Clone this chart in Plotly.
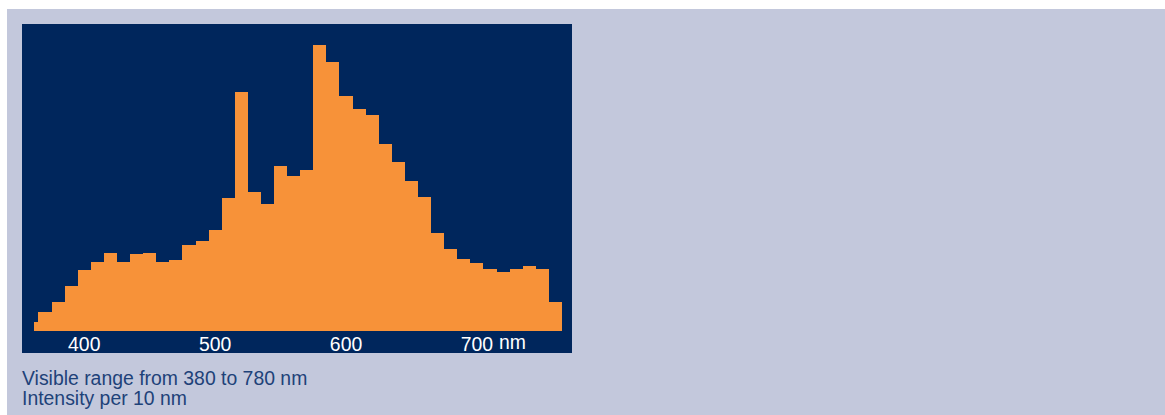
import plotly.graph_objects as go

# 10 nm bins (bin centres); the first bin is only partly visible at the left edge
wavelength_nm = [360, 370, 380, 390, 400, 410, 420, 430, 440, 450,
                 460, 470, 480, 490, 500, 510, 520, 530, 540, 550,
                 560, 570, 580, 590, 600, 610, 620, 630, 640, 650,
                 660, 670, 680, 690, 700, 710, 720, 730, 740, 750,
                 760]
# relative intensity per 10 nm (peak = 100)
intensity = [3.3, 6.5, 10.1, 15.9, 21.5, 24.1, 27.2, 24.3, 27.0, 27.3,
             24.1, 24.9, 30.2, 31.5, 35.4, 46.4, 83.7, 48.6, 44.4, 57.8,
             54.3, 56.5, 100.0, 94.1, 82.3, 77.7, 75.6, 65.4, 59.2, 52.7,
             46.9, 34.3, 28.7, 25.2, 23.9, 21.6, 20.7, 21.7, 22.7, 21.6,
             10.2]
tick_values = [400, 500, 600, 700]
tick_labels = ["400", "500", "600", "700"]
caption_lines = ["Visible range from 380 to 780 nm", "Intensity per 10 nm"]

NAVY = "#00265c"
ORANGE = "#f79239"
PANEL = "#c3c8dc"
TEXT_BLUE = "#1e4279"
FONT = "Liberation Sans, Arial, Helvetica, sans-serif"
FS = 19.4

W, H = 1158, 406
L, R, T, B = 27, 603, 15, 84
pw, ph = W - L - R, H - T - B


def px_x(p):
    # figure pixel -> paper x
    return (p - L) / pw


def px_y(p):
    # figure pixel -> paper y
    return (H - B - p) / ph


fig = go.Figure()
fig.add_trace(go.Bar(
    x=wavelength_nm,
    y=intensity,
    marker=dict(color=ORANGE, line=dict(width=0)),
    hoverinfo="skip",
))

# dark panel behind the bars, a bit larger than the plotting area
fig.add_shape(type="rect", xref="paper", yref="paper",
              x0=px_x(15), x1=px_x(565), y0=px_y(344), y1=px_y(15),
              fillcolor=NAVY, line=dict(width=0), layer="below")

fig.add_annotation(text="nm", xref="x", yref="paper", x=700, y=px_y(332.5),
                   xanchor="left", yanchor="middle", xshift=20, showarrow=False,
                   font=dict(family=FONT, size=FS, color="white"))

for i, line in enumerate(caption_lines):
    fig.add_annotation(text=line, xref="paper", yref="paper",
                       x=px_x(13), y=px_y(368.5 + 20 * i),
                       xanchor="left", yanchor="middle", showarrow=False,
                       font=dict(family=FONT, size=FS, color=TEXT_BLUE))

fig.update_xaxes(
    range=[361.6, 765],
    tickvals=tick_values,
    ticktext=tick_labels,
    tickfont=dict(family=FONT, size=FS, color="white"),
    showgrid=False, zeroline=False, showline=False,
    ticks="", fixedrange=True,
)
fig.update_yaxes(
    range=[0, 107.5],
    showticklabels=False, showgrid=False, zeroline=False, showline=False,
    fixedrange=True,
)
fig.update_layout(
    width=W, height=H,
    margin=dict(l=L, r=R, t=T, b=B, pad=0),
    paper_bgcolor=PANEL,
    plot_bgcolor=NAVY,
    bargap=0,
    showlegend=False,
    font=dict(family=FONT),
)

fig.write_html(
    "out.html",
    config={"displayModeBar": False},
    post_script="document.body.style.margin='9px 0 0 7px';document.body.style.overflow='hidden';",
)
